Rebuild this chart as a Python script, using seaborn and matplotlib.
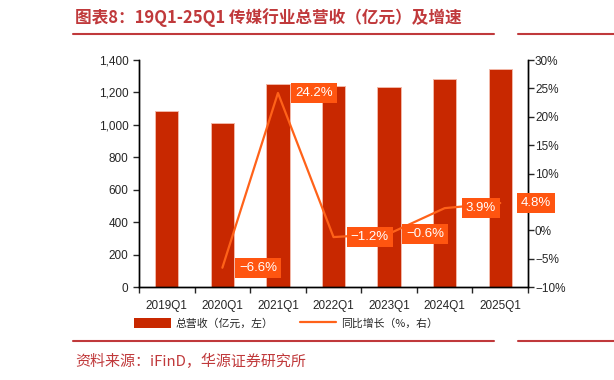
import numpy as np
import pandas as pd
import matplotlib
matplotlib.use("Agg")
import matplotlib.pyplot as plt
import seaborn as sns
from matplotlib.lines import Line2D
from matplotlib.patches import Patch
from matplotlib.ticker import FuncFormatter, FixedLocator

quarters = ["2019Q1", "2020Q1", "2021Q1", "2022Q1", "2023Q1", "2024Q1", "2025Q1"]
revenue = [1085, 1010, 1255, 1242, 1232, 1282, 1342]
growth_quarters = quarters[1:]
growth = [-6.6, 24.2, -1.2, -0.6, 3.9, 4.8]

sns.set_style("white")
plt.rcParams["font.family"] = ["Noto Sans CJK SC", "DejaVu Sans"]

BAR = "#c82800"
LINE = "#ff6219"
BOX = "#ff5510"
TITLE_RED = "#c0393b"
TXT = "#262626"
NUM_FONT = ["Liberation Sans", "DejaVu Sans"]

fig = plt.figure(figsize=(6.14, 3.8), dpi=100)
ax = fig.add_axes([0.2264, 0.2447, 0.86 - 0.2264, 0.842 - 0.2447])

df = pd.DataFrame({"quarter": quarters, "revenue": revenue})
sns.barplot(data=df, x="quarter", y="revenue", color=BAR, width=0.42,
            edgecolor="#f2b8a8", linewidth=0.7, saturation=1, ax=ax)
ax.set_xlim(-0.5, len(quarters) - 0.5)
ax.set_ylim(0, 1400)
ax.set_yticks(range(0, 1401, 200))
ax.yaxis.set_major_formatter(FuncFormatter(lambda v, p: f"{int(v):,}"))
ax.set_xlabel("")
ax.set_ylabel("")

ax2 = ax.twinx()
xpos = np.arange(1, len(quarters))
ax2.plot(xpos, growth, color=LINE, lw=1.6)
ax2.set_ylim(-10, 30)
ax2.set_yticks(range(-10, 31, 5))
ax2.yaxis.set_major_formatter(FuncFormatter(lambda v, p: f"{int(v)}%".replace("-", "\u2212")))

# data labels (the last one sits over the right tick label, as in the source)
for x, g in zip(xpos, growth):
    ax2.annotate(f"{g:.1f}%".replace("-", "\u2212"), (x, g), xytext=(36, 0),
                 textcoords="offset pixels", ha="center", va="center",
                 color="white", fontsize=9.5, family=NUM_FONT,
                 bbox=dict(boxstyle="square,pad=0.3", fc=BOX, ec="none"))

for a in (ax, ax2):
    for s in a.spines.values():
        s.set_color("black")
        s.set_linewidth(1.0)
    a.spines["top"].set_visible(False)
    a.tick_params(axis="y", labelsize=8.5, colors=TXT, length=4, width=1, direction="out")

ax.tick_params(axis="y", left=True, right=False, labelcolor=TXT)
ax2.tick_params(axis="y", right=True, left=False, labelcolor=TXT, pad=1)
ax.tick_params(axis="x", which="major", length=0, labelsize=8.5, labelcolor=TXT, pad=9)
ax.xaxis.set_minor_locator(FixedLocator(np.arange(-0.5, len(quarters), 1.0)))
ax.tick_params(axis="x", which="minor", length=4, width=1, direction="out", bottom=True)
for lab in ax.get_xticklabels() + ax.get_yticklabels() + ax2.get_yticklabels():
    lab.set_family(NUM_FONT)

# legend
handles = [Patch(facecolor=BAR, edgecolor="none"),
           Line2D([0], [0], color=LINE, lw=1.6)]
fig.legend(handles, ["总营收（亿元，左）", "同比增长（%，右）"], loc="center",
           bbox_to_anchor=(286 / 614, 1 - 323 / 380), ncol=2, frameon=False,
           fontsize=7.8, handlelength=3.4, handleheight=1.1, columnspacing=2.4,
           handletextpad=0.4, labelcolor=TXT)

# title, rules and source
fig.text(75 / 614, 1 - 18 / 380, "图表8：19Q1-25Q1 传媒行业总营收（亿元）及增速",
         color=TITLE_RED, fontsize=12, fontweight="bold", va="center", ha="left")
fig.add_artist(Line2D([73 / 614, 494 / 614], [1 - 34 / 380] * 2, color=TITLE_RED, lw=1.5))
fig.add_artist(Line2D([518 / 614, 1.0], [1 - 34 / 380] * 2, color=TITLE_RED, lw=1.5))
fig.add_artist(Line2D([73 / 614, 494 / 614], [1 - 341 / 380] * 2, color=TITLE_RED, lw=1.5))
fig.add_artist(Line2D([518 / 614, 1.0], [1 - 341 / 380] * 2, color=TITLE_RED, lw=1.5))
fig.text(75 / 614, 1 - 361 / 380, "资料来源：iFinD，华源证券研究所",
         color=TITLE_RED, fontsize=10.8, va="center", ha="left")

fig.savefig("out.png", dpi=100)
